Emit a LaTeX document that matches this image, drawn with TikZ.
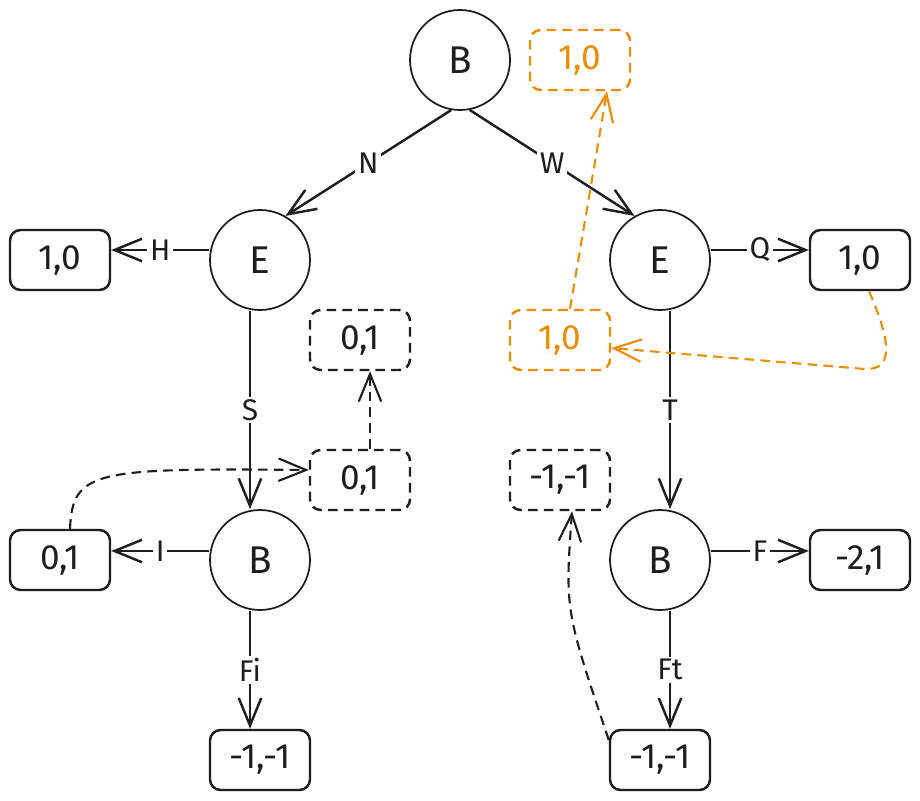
\documentclass[tikz,border=0pt]{standalone}
\usepackage{fontspec}
\setmainfont{Fira Sans}
\usepackage{tikz}
\usepackage{xcolor}
\usetikzlibrary{arrows.meta}
\definecolor{exink}{HTML}{1E1E1E}
\definecolor{exorange}{HTML}{F08C00}

\begin{document}
\begin{tikzpicture}[
                line width=1.4pt, color=exink,
                st/.style={circle, draw, line width=1pt, minimum size=2cm, inner sep=0pt, font=\fontsize{22}{26}\selectfont},
                pay/.style={draw, rounded corners=6pt, minimum width=2cm, minimum height=1.2cm, inner sep=0pt, font=\fontsize{20}{24}\selectfont},
                dpay/.style={pay, dash pattern=on 5.5pt off 3.5pt},
                opay/.style={dpay, color=exorange},
                mv/.style={-{Straight Barb[length=5.5mm, width=4.5mm]}},
                dv/.style={mv, line width=1.2pt, dash pattern=on 5.5pt off 3.5pt},
                lbl/.style={fill=white, inner sep=1.5pt, font=\fontsize{17}{20}\selectfont}
            ]
                \useasboundingbox (0, 0) rectangle (18.4, -16);

                \node[st] (r) at (9.2, -1.2) {B};
                \node[st] (rn) at (5.2, -5.2) {E};
                \node[st] (rw) at (13.2, -5.2) {E};
                \node[st] (rns) at (5.2, -11.2) {B};
                \node[st] (rwt) at (13.2, -11.2) {B};

                \node[pay] (rnh) at (1.2, -5.2) {1,0};
                \node[pay] (rwq) at (17.2, -5.2) {1,0};
                \node[pay] (rnsi) at (1.2, -11.2) {0,1};
                \node[pay] (rnsf) at (5.2, -15.2) {-1,-1};
                \node[pay] (rwtf) at (17.2, -11.2) {-2,1};
                \node[pay] (rwtft) at (13.2, -15.2) {-1,-1};

                \node[dpay] (rnv) at (7.2, -6.8) {0,1};
                \node[dpay] (rnsv) at (7.2, -9.6) {0,1};
                \node[dpay] (rwtv) at (11.2, -9.6) {-1,-1};
                \node[opay] (rwv) at (11.2, -6.8) {1,0};
                \node[opay] (rv) at (11.6, -1.2) {1,0};

                \draw[mv] (r.260) -- node[lbl] {N} (rn.60);
                \draw[mv] (r.281) -- node[lbl] {W} (rw.120);
                \draw[mv] ([yshift=2mm]rn.west) -- node[lbl] {H} ([yshift=2mm]rnh.east);
                \draw[mv] ([yshift=2mm]rw.east) -- node[lbl] {Q} ([yshift=2mm]rwq.west);
                \draw[mv] ([xshift=-2mm]rn.south) -- node[lbl] {S} ([xshift=-2mm]rns.north);
                \draw[mv] ([xshift=2mm]rw.south) -- node[lbl] {T} ([xshift=2mm]rwt.north);
                \draw[mv] ([yshift=1.8mm]rns.west) -- node[lbl] {I} ([yshift=1.8mm]rnsi.east);
                \draw[mv] ([yshift=1.8mm]rwt.east) -- node[lbl] {F} ([yshift=1.8mm]rwtf.west);
                \draw[mv] ([xshift=-2mm]rns.south) -- node[lbl] {Fi} ([xshift=-2mm]rnsf.north);
                \draw[mv] ([xshift=2mm]rwt.south) -- node[lbl] {Ft} ([xshift=2mm]rwtft.north);

                \draw[dv]
                ([xshift=2mm]rnsi.north) .. controls (1.45, -9.4) and (1.9, -9.36) .. ([yshift=2mm]rnsv.west);
                \draw[dv]
                ([xshift=2mm]rnsv.north) -- ([xshift=2mm]rnv.south);
                \draw[dv]
                ([yshift=4mm]rwtft.west) .. controls (11.3, -12.2) .. ([xshift=2.4mm]rwtv.south);
                \draw[dv, color=exorange]
                ([xshift=1.8mm]rwq.south) .. controls (17.85, -6.9) and (17.85, -7.4) .. (17.3, -7.38) -- ([yshift=-1.6mm]rwv.east);
                \draw[dv, color=exorange]
                ([xshift=2mm]rwv.north) -- ([xshift=5.4mm]rv.south);
            \end{tikzpicture}
\end{document}
